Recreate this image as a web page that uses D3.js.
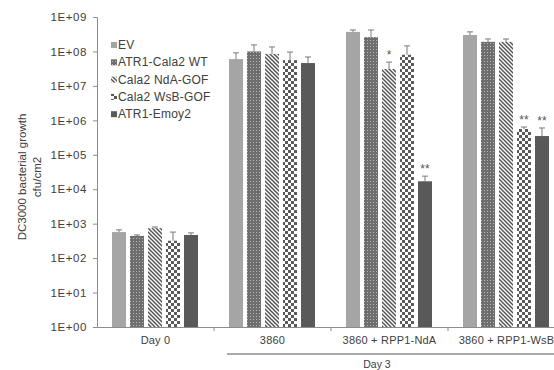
<!DOCTYPE html>
<html><head><meta charset="utf-8">
<script src="https://cdn.jsdelivr.net/npm/d3@7"></script>
<style>body{margin:0;background:#fff;}svg{display:block;font-family:"Liberation Sans",Arial,sans-serif;}</style>
</head><body>
<svg id="chart" width="554" height="370"></svg>
<script>
const categories = ["Day 0", "3860", "3860 + RPP1-NdA", "3860 + RPP1-WsB"];
const series = ["EV", "ATR1-Cala2 WT", "Cala2 NdA-GOF", "Cala2 WsB-GOF", "ATR1-Emoy2"];
const valuesEV    = [570, 6.0e7, 3.7e8, 3.0e8];
const valuesATR1  = [440, 1.0e8, 2.6e8, 1.9e8];
const valuesNdA   = [740, 8.5e7, 3.1e7, 1.9e8];
const valuesWsB   = [320, 5.6e7, 8.0e7, 5.6e5];
const valuesEmoy2 = [470, 4.6e7, 1.7e4, 3.5e5];
const errEV    = [90, 3.1e7, 5e7, 7e7];
const errATR1  = [30, 5.5e7, 1.6e8, 4e7];
const errNdA   = [60, 5e7, 1.8e7, 4e7];
const errWsB   = [250, 4e7, 6.5e7, 8e4];
const errEmoy2 = [70, 2.3e7, 7e3, 2.5e5];
const starsNdA   = ["", "", "*", ""];
const starsWsB   = ["", "", "", "**"];
const starsEmoy2 = ["", "", "**", "**"];
const yTicks = [1, 10, 100, 1e3, 1e4, 1e5, 1e6, 1e7, 1e8, 1e9];

const allValues = [valuesEV, valuesATR1, valuesNdA, valuesWsB, valuesEmoy2];
const allErr = [errEV, errATR1, errNdA, errWsB, errEmoy2];
const allStars = [[], [], starsNdA, starsWsB, starsEmoy2];

const svg = d3.select("#chart");
const defs = svg.append("defs");
const fills = ["#a5a5a5", "url(#pATR)", "url(#pNdA)", "url(#pWsB)", "#595959"];
let p = defs.append("pattern").attr("id","pATR").attr("patternUnits","userSpaceOnUse").attr("width",3).attr("height",3);
p.append("rect").attr("width",3).attr("height",3).attr("fill","#6e6e6e");
p.append("rect").attr("x",1).attr("y",1).attr("width",1).attr("height",1).attr("fill","#b8b8b8");
p = defs.append("pattern").attr("id","pNdA").attr("patternUnits","userSpaceOnUse").attr("width",4).attr("height",4);
p.append("rect").attr("width",4).attr("height",4).attr("fill","#fff");
p.append("path").attr("d","M-1,-1L5,5M-1,3L1,5M3,-1L5,1").attr("stroke","#555").attr("stroke-width",1.5);
p = defs.append("pattern").attr("id","pWsB").attr("patternUnits","userSpaceOnUse").attr("width",6).attr("height",6);
p.append("rect").attr("width",6).attr("height",6).attr("fill","#fff");
p.append("rect").attr("width",3).attr("height",3).attr("fill","#5a5a5a");
p.append("rect").attr("x",3).attr("y",3).attr("width",3).attr("height",3).attr("fill","#5a5a5a");

const y = d3.scaleLog().domain([1, 1e9]).range([327, 17]);
const x = d3.scaleBand().domain(categories).range([97, 565]);
const xs = d3.scaleBand().domain(series).range([15, 101]).paddingInner(0.2222).paddingOuter(0);

const textColor = "#404040", axisColor = "#8c8c8c";

const yAxis = svg.append("g").attr("transform","translate(97,0)")
  .call(d3.axisLeft(y).tickValues(yTicks).tickSize(4).tickFormat(d => "1E+" + String(Math.round(Math.log10(d))).padStart(2,"0")));
yAxis.select(".domain").attr("stroke",axisColor);
yAxis.selectAll(".tick line").attr("stroke",axisColor);
yAxis.selectAll(".tick text").attr("fill",textColor).attr("font-size",11.5).attr("letter-spacing",0.6).attr("x",-10).attr("font-family","Liberation Sans, Arial, sans-serif");

categories.forEach((c, ci) => {
  series.forEach((s, si) => {
    const v = allValues[si][ci];
    const bx = x(c) + xs(s), bw = xs.bandwidth();
    svg.append("rect").attr("x",bx).attr("y",y(v)).attr("width",bw).attr("height",y(1)-y(v)).attr("fill",fills[si]);
    const et = y(v + allErr[si][ci]);
    const cx = bx + bw/2;
    svg.append("line").attr("x1",cx).attr("x2",cx).attr("y1",y(v)).attr("y2",et).attr("stroke","#7a7a7a").attr("stroke-width",1);
    svg.append("line").attr("x1",cx-3).attr("x2",cx+3).attr("y1",et).attr("y2",et).attr("stroke","#7a7a7a").attr("stroke-width",1);
    const st = allStars[si][ci];
    if (st) svg.append("text").attr("x",cx).attr("y",et-3).attr("text-anchor","middle").attr("font-size",12).attr("fill","#555").text(st);
  });
});

const xAxis = svg.append("g").attr("transform","translate(0,327)")
  .call(d3.axisBottom(x).tickSize(0).tickPadding(9));
xAxis.select(".domain").attr("stroke",axisColor);
xAxis.selectAll(".tick text").attr("fill",textColor).attr("font-size",11).attr("letter-spacing",0.2).attr("font-family","Liberation Sans, Arial, sans-serif");
categories.slice(1).forEach(c => {
  svg.append("line").attr("x1",x(c)).attr("x2",x(c)).attr("y1",327).attr("y2",331).attr("stroke",axisColor);
});
svg.append("line").attr("x1",x(categories[1]) + 13).attr("x2",554).attr("y1",354).attr("y2",354).attr("stroke","#555").attr("stroke-width",1);
svg.append("text").attr("x",377).attr("y",368).attr("text-anchor","middle").attr("font-size",10.5).attr("fill",textColor).text("Day 3");

const yt = svg.append("text").attr("transform","translate(26,177) rotate(-90)").attr("text-anchor","middle").attr("font-size",11.5).attr("fill",textColor);
yt.append("tspan").attr("x",0).attr("dy",0).text("DC3000 bacterial growth");
yt.append("tspan").attr("x",0).attr("dy",15).text("cfu/cm2");

series.forEach((s, i) => {
  const ly = 45 + i * 17.3;
  svg.append("rect").attr("x",111).attr("y",ly-3).attr("width",6).attr("height",6).attr("fill",fills[i]);
  svg.append("text").attr("x",118).attr("y",ly+4).attr("font-size",12).attr("letter-spacing",0.2).attr("fill",textColor).text(s);
});
</script>
</body></html>
